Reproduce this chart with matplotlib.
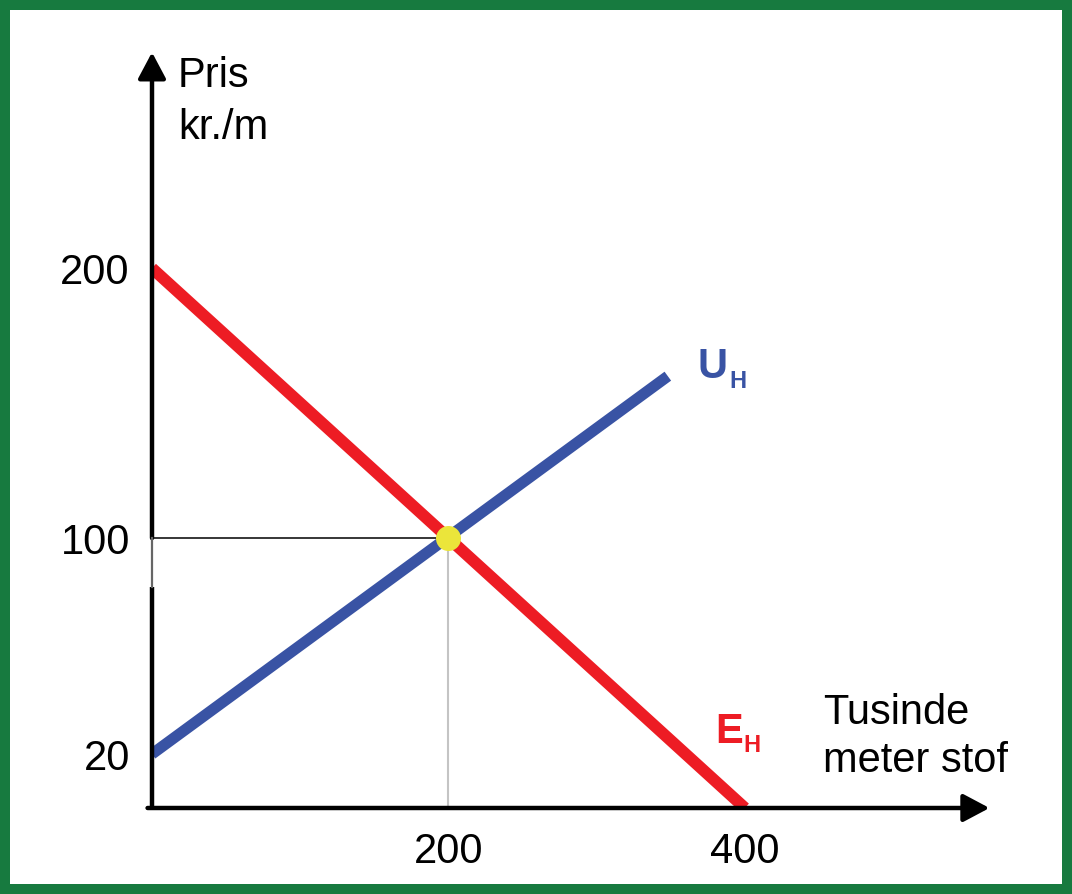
import matplotlib.pyplot as plt
from matplotlib.patches import Rectangle

# Data
supply_x = [0, 348]          # U_H
supply_y = [20, 160]
demand_x = [0, 400]          # E_H
demand_y = [200, 0]
eq_x = 200
eq_y = 100
x_ticks = [200, 400]
x_tick_labels = ["200", "400"]
y_ticks = [20, 100, 200]
y_tick_labels = ["20", "100", "200"]

FONT = "Liberation Sans"
RED = "#ed1c24"
BLUE = "#3953a4"
YELLOW = "#ebe53a"
GREEN = "#177a3f"
FS = 30

fig = plt.figure(figsize=(10.72, 8.94), dpi=100)
ax = fig.add_axes([152 / 1072, 1 - 808 / 894, 836 / 1072, 753 / 894])
ax.set_xlim(0, 564)
ax.set_ylim(0, 279)
for s in ax.spines.values():
    s.set_visible(False)

# Ticks without marks
ax.set_xticks(x_ticks)
ax.set_xticklabels(x_tick_labels)
ax.set_yticks(y_ticks)
ax.set_yticklabels(y_tick_labels)
ax.tick_params(length=0, labelsize=FS)
ax.tick_params(axis="y", pad=16)
ax.tick_params(axis="x", pad=17)
for lab in ax.get_xticklabels() + ax.get_yticklabels():
    lab.set_fontfamily(FONT)

# Help lines to equilibrium
ax.plot([0, eq_x], [eq_y, eq_y], color="black", lw=1.1, zorder=2)
ax.plot([eq_x, eq_x], [0, eq_y], color="#c4c4c4", lw=1.5, zorder=2)

# Curves
ax.plot(demand_x, demand_y, color=RED, lw=8.5, solid_capstyle="butt", zorder=3)
ax.plot(supply_x, supply_y, color=BLUE, lw=8.0, solid_capstyle="butt", zorder=3)
ax.plot([eq_x], [eq_y], "o", color=YELLOW, markersize=18, mec="none", zorder=4)

# Axes with arrows (y axis has a thin piece just below 100)
arrow = dict(arrowstyle="-|>,head_length=1.6,head_width=0.85", mutation_scale=10,
             lw=3.2, color="black", shrinkA=0, shrinkB=0)
ax.annotate("", xy=(565, 0), xytext=(-3, 0), arrowprops=arrow,
            annotation_clip=False, zorder=5)
ax.annotate("", xy=(0, 280), xytext=(0, eq_y), arrowprops=arrow,
            annotation_clip=False, zorder=5)
ax.plot([0, 0], [0, 82], color="black", lw=3.2, solid_capstyle="butt",
        clip_on=False, zorder=5)
ax.plot([0, 0], [82, eq_y], color="#666666", lw=1.6, clip_on=False, zorder=5)

# Axis titles
ax.text(17.5, 267, "Pris", fontsize=FS, family=FONT, va="baseline")
ax.text(17.5, 248, "kr./m", fontsize=FS, family=FONT, va="baseline")
ax.text(453, 31, "Tusinde", fontsize=FS, family=FONT, va="baseline")
ax.text(453, 13.3, "meter stof", fontsize=FS, family=FONT, va="baseline")

# Curve labels with subscript
ax.text(367.7, 159.3, "U", fontsize=FS, family=FONT, weight="bold",
        color=BLUE, va="baseline")
ax.text(389.5, 155.6, "H", fontsize=17, family=FONT, weight="bold",
        color=BLUE, va="baseline")
ax.text(379.8, 24.1, "E", fontsize=FS, family=FONT, weight="bold",
        color=RED, va="baseline")
ax.text(399, 20.7, "H", fontsize=17, family=FONT, weight="bold",
        color=RED, va="baseline")

# Green frame around everything
fig.patches.append(Rectangle((5 / 1072, 5 / 894), 1 - 10 / 1072, 1 - 10 / 894,
                             transform=fig.transFigure, fill=False,
                             edgecolor=GREEN, lw=7.2))

fig.savefig("out.png", dpi=100)
